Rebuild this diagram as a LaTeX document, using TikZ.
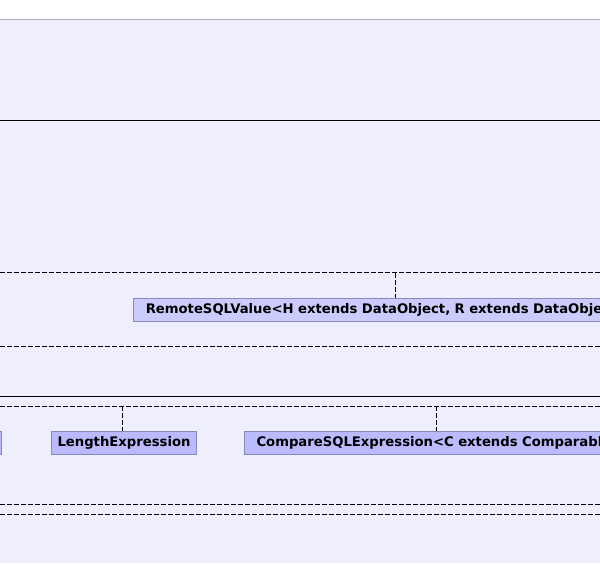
\documentclass[tikz,border=0pt]{standalone}
\usepackage{fontspec}
\setmainfont{DejaVu Sans}
\definecolor{bgl}{RGB}{238,238,252}
\definecolor{topline}{RGB}{170,168,185}
\definecolor{boxa}{RGB}{204,204,252}
\definecolor{boxb}{RGB}{186,186,252}
\definecolor{boxborder}{RGB}{136,136,185}
\tikzset{
  cls/.style={draw=boxborder, line width=1pt, minimum height=23pt, inner ysep=0pt, font=\fontsize{13.2}{15}\selectfont\bfseries, text=black, anchor=west},
  solidsep/.style={draw=black, line width=1pt},
  dashsep/.style={draw=black, line width=0.9pt, dash pattern=on 5pt off 2pt},
  dashconn/.style={draw=black, line width=0.9pt, dash pattern=on 5pt off 2pt}
}
\begin{document}
\begin{tikzpicture}[x=1pt,y=-1pt]
\useasboundingbox (0,0) rectangle (600,563);
\clip (0,0) rectangle (600,563);
\fill[white] (0,0) rectangle (600,563);
\fill[bgl] (0,19.3) rectangle (600,563);
\draw[topline, line width=1pt] (0,19.3) -- (600,19.3);
\draw[solidsep] (0,120) -- (600,120);
\draw[dashsep] (0,272.7) -- (600,272.7);
\draw[dashsep] (0,346) -- (600,346);
\draw[solidsep] (0,396) -- (600,396);
\draw[dashsep] (0,406) -- (600,406);
\draw[dashsep] (0,504) -- (600,504);
\draw[dashsep] (0,514.3) -- (600,514.3);
% boxes
\node[cls, fill=boxa, inner xsep=12pt, text width=480pt, align=left] (remote) at (133.3,309.6) {RemoteSQLValue<H extends DataObject, R extends DataObje};
\node[cls, fill=boxb, inner xsep=6pt, minimum width=143.7pt] (length) at (51,442.8) {LengthExpression};
\node[cls, fill=boxb, inner xsep=12pt, text width=380pt, align=left] (compare) at (244,442.8) {CompareSQLExpression<C extends Comparabl};
\draw[boxborder, fill=boxb, line width=1pt] (-40,431.3) rectangle (1.7,454.3);
% connectors
\coordinate (r1) at (395.3,272.7);
\coordinate (l1) at (122.7,406);
\coordinate (c1) at (436.7,406);
\draw[dashconn] (r1) -- (r1 |- remote.north);
\draw[dashconn] (l1) -- (l1 |- length.north);
\draw[dashconn] (c1) -- (c1 |- compare.north);
\end{tikzpicture}
\end{document}
